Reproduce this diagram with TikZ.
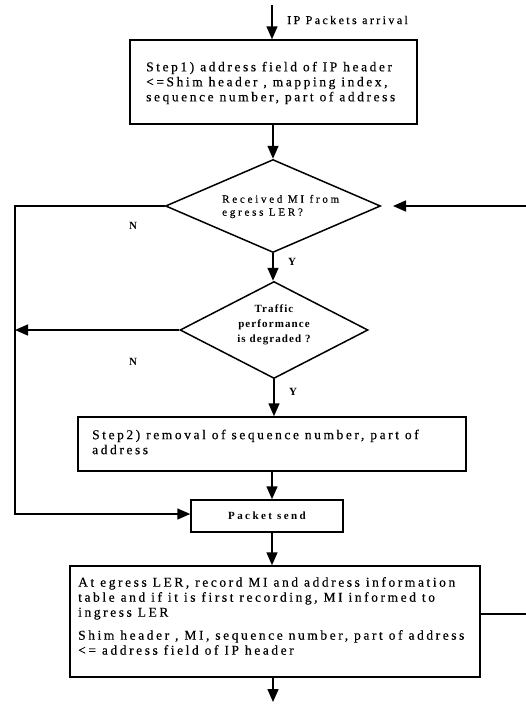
\documentclass[tikz,border=0pt]{standalone}
\usepackage{fontspec}
\setmainfont{Liberation Serif}
\newfontfamily\boxfont[LetterSpace=19,FakeBold=0.4]{Liberation Serif}
\newfontfamily\dfont[LetterSpace=25,FakeBold=0.4]{Liberation Serif}
\newfontfamily\bfont[LetterSpace=10]{Liberation Serif}
\newfontfamily\pfont[LetterSpace=22]{Liberation Serif}
\newfontfamily\afont[LetterSpace=20,FakeBold=0.4]{Liberation Serif}
\usetikzlibrary{shapes.geometric,arrows.meta}
\tikzset{
  ln/.style={line width=1.5pt},
  arr/.style={ln,-{Triangle[width=11pt,length=13pt]}},
  boxshape/.style={draw,ln,rectangle,inner sep=0pt},
  decision/.style={draw,ln,diamond,inner sep=0pt},
  boxtxt/.style={inner sep=0pt,align=left,anchor=west,font=\boxfont\fontsize{13.5}{15}\selectfont},
  dtxt/.style={inner sep=0pt,align=left,font=\dfont\fontsize{11}{13}\selectfont},
  d2txt/.style={inner sep=0pt,align=center,font=\bfont\bfseries\fontsize{11}{15}\selectfont},
  lbl/.style={inner sep=0pt,font=\bfseries\fontsize{11}{12}\selectfont},
}
\begin{document}
\begin{tikzpicture}[x=1pt,y=-1pt]
\useasboundingbox (0,0) rectangle (526,712);
\clip (0,0) rectangle (526,712);
% boxes
\node[boxshape,minimum width=287pt,minimum height=84pt] (s1) at (273.5,82) {};
\node[boxtxt] (s1t) at (146,83) {Step1) address field of IP header\\<=Shim header , mapping index,\\sequence number, part of address};
\node[decision,minimum width=215pt,minimum height=93pt] (d1) at (273,206) {};
\node[dtxt,anchor=west] (d1t) at (222,206.5) {Received MI from\\egress LER?};
\node[decision,minimum width=188pt,minimum height=97pt] (d2) at (274,330) {};
\node[d2txt] (d2t) at (274,325) {Traffic\\performance\\is degraded ?};
\node[boxshape,minimum width=388pt,minimum height=54pt] (s2) at (272,444) {};
\node[boxtxt] (s2t) at (92,442) {Step2) removal of sequence number, part of\\address};
\node[boxshape,minimum width=152pt,minimum height=32pt,font=\pfont\bfseries\fontsize{11}{12}\selectfont] (ps) at (267,516) {Packet send};
\node[boxshape,minimum width=410pt,minimum height=111pt] (s3) at (275,621.5) {};
\node[boxtxt] (s3t) at (78,616) {At egress LER, record MI and address information\\table  and if it is first recording, MI informed to\\ingress LER\\[8pt]Shim header , MI, sequence number, part of address\\<= address field of IP header};
% labels
\node[inner sep=0pt,anchor=west,font=\afont\fontsize{12}{13}\selectfont] (ipl) at (287,20) {IP Packets arrival};
\node[lbl] (n1) at (133,226) {N};
\node[lbl] (n2) at (133,362) {N};
\node[lbl] (y1) at (292,262) {Y};
\node[lbl] (y2) at (293,392) {Y};
% coordinates
\coordinate (in) at (272,5);
\coordinate (out) at (273,702);
\coordinate (mid) at (272,532);
\coordinate (L1) at (15,206);
\coordinate (L2) at (15,514);
\coordinate (L3) at (15,330);
\coordinate (R1) at (545,614);
\coordinate (R2) at (545,206);
\coordinate (Rtip) at (393,206);
% connectors
\draw[arr] (in) -- (in |- s1.north);
\draw[arr] (s1.south -| d1.north) -- (d1.north);
\draw[arr] (d1.south) -- (d1.south |- d2.north);
\draw[arr] (d2.south) -- (d2.south |- s2.north);
\draw[arr] (s2.south) -- (s2.south |- ps.north);
\draw[arr] (ps.south -| mid) -- (mid |- s3.north);
\draw[arr] (s3.south -| out) -- (out);
\draw[arr] (d1.west) -- (L1) -- (L2) -- (ps.west |- L2);
\draw[arr] (d2.west) -- (L3);
\draw[arr] (s3.east |- R1) -- (R1) -- (R2) -- (Rtip);
\end{tikzpicture}
\end{document}
